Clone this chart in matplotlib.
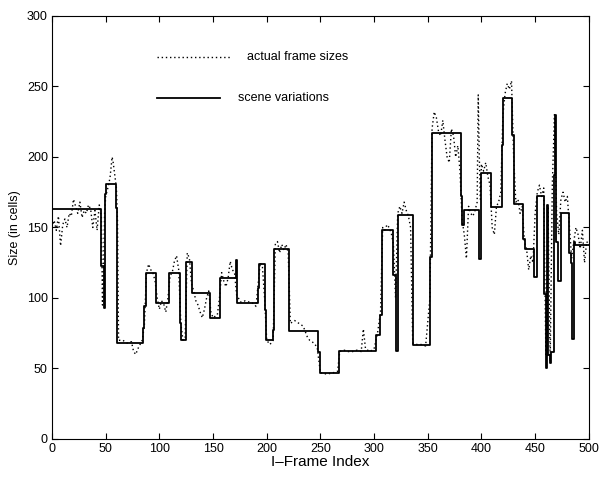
import matplotlib
matplotlib.use("Agg")
import matplotlib.pyplot as plt

# scene variations: start frame of each scene and its level (cells)
scene_start = [0, 46, 48, 49, 50.5, 60, 61, 84.5, 86, 87.5,
               97, 109, 119, 120, 124.5, 130, 147, 156.5, 171.5, 172.5,
               192, 193, 198, 199, 205.5, 206.5, 221, 248, 249.5, 267.5,
               301.7, 305.4, 307, 318, 320, 322.5, 336, 352, 353.5, 380.5,
               382, 384, 397.9, 400, 408.5, 418.7, 420, 428.6, 430, 439,
               441, 449, 451.3, 458.4, 460, 461.2, 462, 464.2, 465, 467.2,
               468.8, 469.7, 471.3, 473.7, 482, 483, 484.5, 486, 487]
scene_level = [163, 123, 93, 174, 181, 164, 68, 78.5, 94, 117.5,
               96.7, 117.5, 82, 70.5, 125.8, 103.3, 85.6, 114, 127, 96.7,
               107, 124, 91.5, 70, 77, 135, 76.6, 62, 46.6, 62.2,
               73.8, 88, 148, 116, 62.4, 159, 66.7, 129, 216.8, 172,
               152, 162.4, 127.4, 188.4, 164.8, 208.5, 241.6, 215.6, 167, 142,
               135, 115, 172, 103, 50, 166, 59.6, 54, 62, 187,
               230, 140, 112, 160.5, 132, 125, 71, 140, 137.6]

# actual I-frame sizes (sampled)
frame_idx = [0, 2, 4, 6, 8, 10, 12, 14, 16, 18,
             20, 22, 24, 26, 28, 30, 32, 34, 36, 38,
             40, 42, 44, 46, 47, 48, 49, 50, 52, 54,
             56, 57, 58, 60, 61, 62, 66, 70, 74, 76,
             78, 80, 84, 86, 88, 90, 92, 94, 96, 98,
             100, 102, 104, 106, 108, 110, 112, 114, 116, 118,
             120, 122, 124, 126, 128, 130, 132, 134, 136, 138,
             140, 142, 144, 146, 148, 150, 152, 154, 156, 158,
             160, 162, 164, 166, 168, 170, 172, 176, 180, 184,
             188, 190, 192, 194, 196, 198, 200, 203, 206, 208,
             210, 212, 214, 216, 218, 220, 222, 226, 230, 234,
             238, 240, 244, 247, 250, 256, 262, 266, 268, 272,
             276, 280, 284, 288, 290, 292, 296, 300, 303, 306,
             308, 310, 312, 314, 316, 318, 320, 322, 324, 326,
             328, 330, 332, 334, 336, 340, 344, 348, 352, 354,
             356, 358, 360, 362, 364, 366, 368, 370, 372, 374,
             376, 378, 380, 382, 384, 386, 388, 390, 392, 394,
             396, 397, 398, 399, 400, 402, 404, 406, 408, 410,
             412, 414, 416, 418, 420, 422, 424, 426, 428, 430,
             432, 434, 436, 438, 440, 442, 444, 446, 448, 450,
             452, 454, 456, 458, 460, 462, 464, 466, 468, 470,
             472, 474, 476, 478, 480, 482, 484, 486, 488, 490,
             492, 494, 496, 498, 500]
frame_size = [150, 155, 148, 158, 137, 152, 156, 150, 160, 158,
              170, 165, 160, 168, 157, 162, 160, 166, 163, 150,
              162, 148, 166, 158, 95, 120, 160, 172, 178, 185,
              200, 196, 190, 178, 155, 70, 70, 68, 69, 62,
              60, 64, 70, 80, 118, 124, 120, 118, 112, 100,
              92, 98, 96, 90, 100, 116, 118, 126, 130, 120,
              82, 70, 72, 132, 128, 110, 105, 98, 95, 90,
              86, 92, 100, 105, 90, 86, 87, 88, 100, 118,
              112, 108, 114, 126, 120, 118, 102, 97, 98, 97,
              96, 94, 110, 125, 122, 100, 70, 67, 70, 138,
              140, 132, 138, 134, 138, 132, 82, 84, 82, 80,
              72, 70, 68, 65, 47, 46, 47, 48, 62, 63,
              62, 62, 63, 62, 78, 64, 62, 64, 74, 90,
              150, 148, 152, 150, 146, 138, 100, 160, 165, 160,
              168, 162, 158, 150, 68, 67, 67, 66, 100, 220,
              232, 228, 218, 215, 226, 212, 200, 196, 220, 215,
              200, 208, 190, 155, 145, 128, 165, 160, 158, 162,
              168, 244, 200, 170, 195, 190, 196, 186, 180, 150,
              145, 165, 168, 175, 230, 245, 252, 248, 254, 200,
              168, 170, 160, 165, 140, 135, 120, 130, 125, 160,
              175, 180, 172, 178, 60, 165, 55, 180, 230, 160,
              145, 170, 175, 168, 172, 150, 128, 140, 150, 145,
              135, 148, 125, 140, 138]

plt.rcParams["font.family"] = ["Liberation Sans", "DejaVu Sans"]
plt.rcParams["font.size"] = 9

fig = plt.figure(figsize=(5.99, 4.78), dpi=100)
ax = fig.add_axes([0.0868, 0.0816, 0.8962, 0.885])

dotted = (0, (1, 2))
ax.plot(frame_idx, frame_size, color="black", linestyle=dotted, linewidth=1.0)
ax.step(scene_start + [500], scene_level + [scene_level[-1]], where="post",
        color="black", linewidth=1.3)

# hand-placed legend like the original
ax.plot([0.196, 0.335], [0.903, 0.903], transform=ax.transAxes,
        color="black", linestyle=dotted, linewidth=1.0)
ax.text(0.363, 0.903, "actual frame sizes", transform=ax.transAxes, va="center")
ax.plot([0.196, 0.313], [0.806, 0.806], transform=ax.transAxes,
        color="black", linewidth=1.3)
ax.text(0.346, 0.806, "scene variations", transform=ax.transAxes, va="center")

ax.set_xlim(0, 500)
ax.set_ylim(0, 300)
ax.set_xticks(range(0, 501, 50))
ax.set_yticks(range(0, 301, 50))
ax.tick_params(direction="in", length=4, top=True, right=True, pad=3)
ax.set_xlabel("I\u2013Frame Index", fontsize=11, labelpad=0)
ax.set_ylabel("Size (in cells)", labelpad=4)

fig.savefig("out.png", dpi=100)
